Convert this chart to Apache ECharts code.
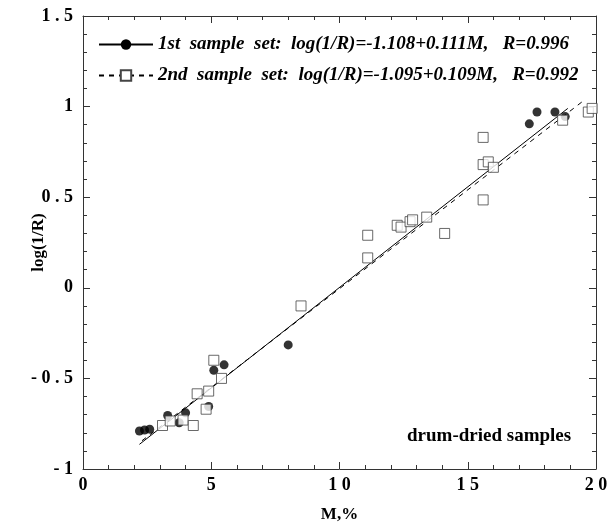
<!DOCTYPE html>
<html>
<head>
<meta charset="utf-8">
<script src="https://cdn.jsdelivr.net/npm/echarts@6/dist/echarts.min.js"></script>
<style>html,body{margin:0;padding:0;background:#fff}#c{width:616px;height:528px}</style>
</head>
<body>
<div id="c"></div>
<script>
// ---- data ----
const set1X = [2.2, 2.4, 2.6, 3.3, 3.75, 4.0, 4.9, 5.1, 5.5, 8.0, 17.4, 17.7, 18.4, 18.8];
const set1Y = [-0.79, -0.785, -0.78, -0.705, -0.745, -0.69, -0.655, -0.455, -0.425, -0.315, 0.905, 0.97, 0.97, 0.945];
const set2X = [3.1, 3.4, 3.9, 4.3, 4.45, 4.8, 4.9, 5.1, 5.4, 8.5, 11.1, 11.1, 12.25, 12.4, 12.75, 12.85, 13.4, 14.1, 15.6, 15.6, 15.6, 15.8, 16.0, 18.7, 19.7, 19.85];
const set2Y = [-0.76, -0.735, -0.73, -0.76, -0.585, -0.67, -0.57, -0.40, -0.50, -0.10, 0.165, 0.29, 0.345, 0.335, 0.365, 0.375, 0.39, 0.30, 0.485, 0.83, 0.68, 0.695, 0.665, 0.925, 0.97, 0.99];
// regression line end points (as drawn)
const fit1X = [2.2, 18.9];
const fit1Y = [-0.864, 0.990];
const fit2X = [2.3, 19.5];
const fit2Y = [-0.844, 1.031];
const name1 = '1st  sample  set:  log(1/R)=-1.108+0.111M,   R=0.996';
const name2 = '2nd  sample  set:  log(1/R)=-1.095+0.109M,   R=0.992';
const xTicks = [0, 5, 10, 15, 20];
const yTicks = [-1, -0.5, 0, 0.5, 1, 1.5];
const note = 'drum-dried samples';

const zip = (a, b) => a.map((v, i) => [v, b[i]]);
const spaced = v => String(v).split('').join(' ');
const serif = 'Liberation Serif';

const chart = echarts.init(document.getElementById('c'), null, {renderer: 'canvas'});
const tickCommon = () => ({
  axisLine: {show: true, onZero: false, lineStyle: {color: '#333', width: 1}},
  axisTick: {show: true, inside: true, length: 7, lineStyle: {color: '#333'}},
  minorTick: {show: true, splitNumber: 5, length: 4, lineStyle: {color: '#333'}},
  splitLine: {show: false}
});
chart.setOption({
  animation: false,
  backgroundColor: '#fff',
  grid: {left: 83, right: 20, top: 16, bottom: 56},
  legend: {
    data: [name1, name2],
    orient: 'vertical', left: 93, top: 30, itemGap: 12,
    itemWidth: 54, itemHeight: 13,
    textStyle: {fontFamily: serif, fontStyle: 'italic', fontWeight: 'bold', fontSize: 19, color: '#000'}
  },
  xAxis: [{
    type: 'value', min: 0, max: 20, interval: 5, position: 'bottom',
    name: 'M,%', nameLocation: 'middle', nameGap: 37, nameMoveOverlap: false,
    nameTextStyle: {fontFamily: serif, fontWeight: 'bold', fontSize: 17, color: '#000'},
    axisLabel: {fontFamily: serif, fontWeight: 'bold', fontSize: 18, color: '#000', margin: 7,
      formatter: v => xTicks.includes(v) ? spaced(v) : ''},
    ...tickCommon()
  }, {
    type: 'value', min: 0, max: 20, interval: 5, position: 'top',
    axisLabel: {show: false}, ...tickCommon()
  }],
  yAxis: [{
    type: 'value', min: -1, max: 1.5, interval: 0.5, position: 'left',
    name: 'log(1/R)', nameLocation: 'middle', nameGap: 36, nameMoveOverlap: false,
    nameTextStyle: {fontFamily: serif, fontWeight: 'bold', fontSize: 17, color: '#000'},
    axisLabel: {fontFamily: serif, fontWeight: 'bold', fontSize: 18, color: '#000', margin: 10,
      formatter: v => yTicks.includes(v) ? spaced(v) : ''},
    ...tickCommon()
  }, {
    type: 'value', min: -1, max: 1.5, interval: 0.5, position: 'right',
    axisLabel: {show: false}, ...tickCommon()
  }],
  graphic: [{
    type: 'text', left: 407, top: 427,
    style: {text: note, font: 'bold 19px "Liberation Serif"', fill: '#000'}
  }],
  series: [
    {name: name1, type: 'line', data: zip(fit1X, fit1Y), symbol: 'circle', symbolSize: 9, showSymbol: false,
      lineStyle: {color: '#000', width: 1}, itemStyle: {color: '#000'}, z: 1},
    {name: name2, type: 'line', data: zip(fit2X, fit2Y), symbol: 'emptyRect', symbolSize: 9, showSymbol: false,
      lineStyle: {color: '#000', width: 1, type: [5, 5]}, itemStyle: {color: '#444'}, z: 1},
    {name: 'set 1', type: 'scatter', data: zip(set1X, set1Y), symbol: 'circle', symbolSize: 9,
      itemStyle: {color: '#000'}, z: 2},
    {name: 'set 2', type: 'scatter', data: zip(set2X, set2Y), symbol: 'rect', symbolSize: 10,
      itemStyle: {color: '#fff', borderColor: '#444', borderWidth: 1}, z: 3}
  ]
});
</script>
</body>
</html>
